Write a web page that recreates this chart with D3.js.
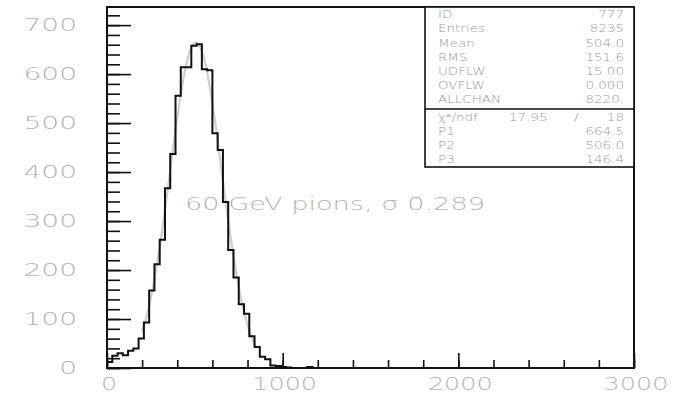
<!DOCTYPE html>
<meta charset="utf-8">
<style>
    body { margin: 0; background: #fff; }
    text { font-family: "DejaVu Sans", sans-serif; font-weight: 200; }
    .lbl { fill: #b4b4b4; font-size: 17px; }
    .stat { fill: #999; font-size: 10px; }
</style>
<svg width="679" height="402"></svg>
<script src="https://d3js.org/d3.v7.min.js"></script>
<script>

    // histogram: 100 bins of 30 from 0 to 3000 (only the filled ones listed)
    var binWidth = 30;
    var counts = [12, 25, 30, 26, 35, 40, 60, 93, 158, 212,
                  262, 367, 437, 556, 614, 614, 658, 661, 610, 608,
                  479, 445, 339, 241, 185, 130, 111, 65, 43, 23,
                  18, 5, 4, 2, 1, 0, 0, 0, 2, 0];

    var yTickValues = [0, 100, 200, 300, 400, 500, 600, 700];
    var xTickValues = [0, 1000, 2000, 3000];

    var statLabels = ["ID", "Entries", "Mean", "RMS", "UDFLW", "OVFLW", "ALLCHAN"];
    var statValues = ["777", "8235", "504.0", "151.6", "15.00", "0.000", "8220."];
    var chi2Values = ["17.95", "18"];
    var fitLabels = ["P1", "P2", "P3"];
    var fitValues = [664.5, 506.0, 146.4];
    var fitRange = [200, 850];

    var title = "60 GeV pions, \u03c3 0.289";

    var svg = d3.select("svg");

    var x = d3.scaleLinear().domain([0, 3000]).range([107, 634]);
    var y = d3.scaleLinear().domain([0, 737]).range([368, 7]);

    // wide stroke-font look: stretch text horizontally
    function wide(sel, px, py, sx) {
        sel.attr("transform", "translate(" + px + "," + py + ") scale(" + sx + ",1)");
    }

    // ticks (inside the frame)
    var gy = svg.append("g").attr("transform", "translate(107,0)");
    gy.append("g").call(d3.axisLeft(y).tickValues(d3.range(0, 737, 20)).tickSize(-13).tickFormat(""));
    gy.append("g").call(d3.axisLeft(y).tickValues(yTickValues).tickSize(-24).tickFormat(""));

    var gx = svg.append("g").attr("transform", "translate(0,368)");
    gx.append("g").call(d3.axisBottom(x).tickValues(d3.range(0, 3001, 200)).tickSize(-8).tickFormat(""));
    gx.append("g").call(d3.axisBottom(x).tickValues(xTickValues).tickSize(-15).tickFormat(""));

    svg.selectAll(".domain").remove();
    svg.selectAll(".tick line").attr("stroke", "#111").attr("stroke-width", 1.6);

    // tick labels
    svg.selectAll(".ylab").data(yTickValues).enter().append("text")
        .attr("class", "lbl")
        .attr("text-anchor", "end")
        .attr("dy", "0.36em")
        .text(function(d) { return d; })
        .each(function(d) { wide(d3.select(this), 77, y(d), 1.65); });

    svg.selectAll(".xlab").data(xTickValues).enter().append("text")
        .attr("class", "lbl")
        .attr("text-anchor", "middle")
        .attr("dy", "0.36em")
        .text(function(d) { return d; })
        .each(function(d) { wide(d3.select(this), x(d) + 2, 384, 1.5); });

    // fit curve (gaussian from the fit parameters in the box)
    var fitPts = d3.range(fitRange[0], fitRange[1] + 1, 5).map(function(v) {
        var t = (v - fitValues[1]) / fitValues[2];
        return [v, fitValues[0] * Math.exp(-0.5 * t * t)];
    });
    svg.append("path")
        .attr("d", d3.line().x(function(d) { return x(d[0]); }).y(function(d) { return y(d[1]); })(fitPts))
        .attr("fill", "none")
        .attr("stroke", "#cfcfcf")
        .attr("stroke-width", 2.2);

    // histogram outline
    var pts = [[0, 0]];
    counts.forEach(function(c, i) {
        pts.push([i * binWidth, c]);
        pts.push([(i + 1) * binWidth, c]);
    });
    pts.push([counts.length * binWidth, 0]);
    svg.append("path")
        .attr("d", d3.line().x(function(d) { return x(d[0]); }).y(function(d) { return y(d[1]); })(pts))
        .attr("fill", "none")
        .attr("stroke", "#111")
        .attr("stroke-width", 2);

    // title text
    svg.append("text")
        .attr("class", "lbl")
        .attr("x", 185).attr("y", 210)
        .attr("textLength", 300)
        .attr("lengthAdjust", "spacingAndGlyphs")
        .text(title);

    // frame
    svg.append("rect")
        .attr("x", 107).attr("y", 7)
        .attr("width", 634 - 107).attr("height", 368 - 7)
        .attr("fill", "none")
        .attr("stroke", "#111")
        .attr("stroke-width", 2);

    // statistics box
    var box = svg.append("g");
    box.append("rect")
        .attr("x", 425).attr("y", 7)
        .attr("width", 634 - 425).attr("height", 167 - 7)
        .attr("fill", "#fff")
        .attr("stroke", "#111")
        .attr("stroke-width", 1.6);
    box.append("line")
        .attr("x1", 425).attr("x2", 634).attr("y1", 109).attr("y2", 109)
        .attr("stroke", "#111").attr("stroke-width", 1.6);

    statLabels.forEach(function(s, i) {
        var yy = 14.5 + i * 14.2;
        box.append("text").attr("class", "stat").attr("dy", "0.36em").text(s)
            .call(wide, 438, yy, 1.35);
        box.append("text").attr("class", "stat").attr("dy", "0.36em").attr("text-anchor", "end").text(statValues[i])
            .call(wide, 624, yy, 1.35);
    });

    box.append("text").attr("class", "stat").attr("dy", "0.36em").text("\u03c7\u00b2/ndf")
        .call(wide, 438, 117, 1.35);
    box.append("text").attr("class", "stat").attr("dy", "0.36em").text(chi2Values[0])
        .call(wide, 509, 117, 1.35);
    box.append("text").attr("class", "stat").attr("dy", "0.36em").text("/")
        .call(wide, 574, 117, 1.35);
    box.append("text").attr("class", "stat").attr("dy", "0.36em").attr("text-anchor", "end").text(chi2Values[1])
        .call(wide, 624, 117, 1.35);

    fitLabels.forEach(function(s, i) {
        var yy = 131 + i * 14;
        box.append("text").attr("class", "stat").attr("dy", "0.36em").text(s)
            .call(wide, 438, yy, 1.35);
        box.append("text").attr("class", "stat").attr("dy", "0.36em").attr("text-anchor", "end").text(fitValues[i].toFixed(1))
            .call(wide, 624, yy, 1.35);
    });

</script>
